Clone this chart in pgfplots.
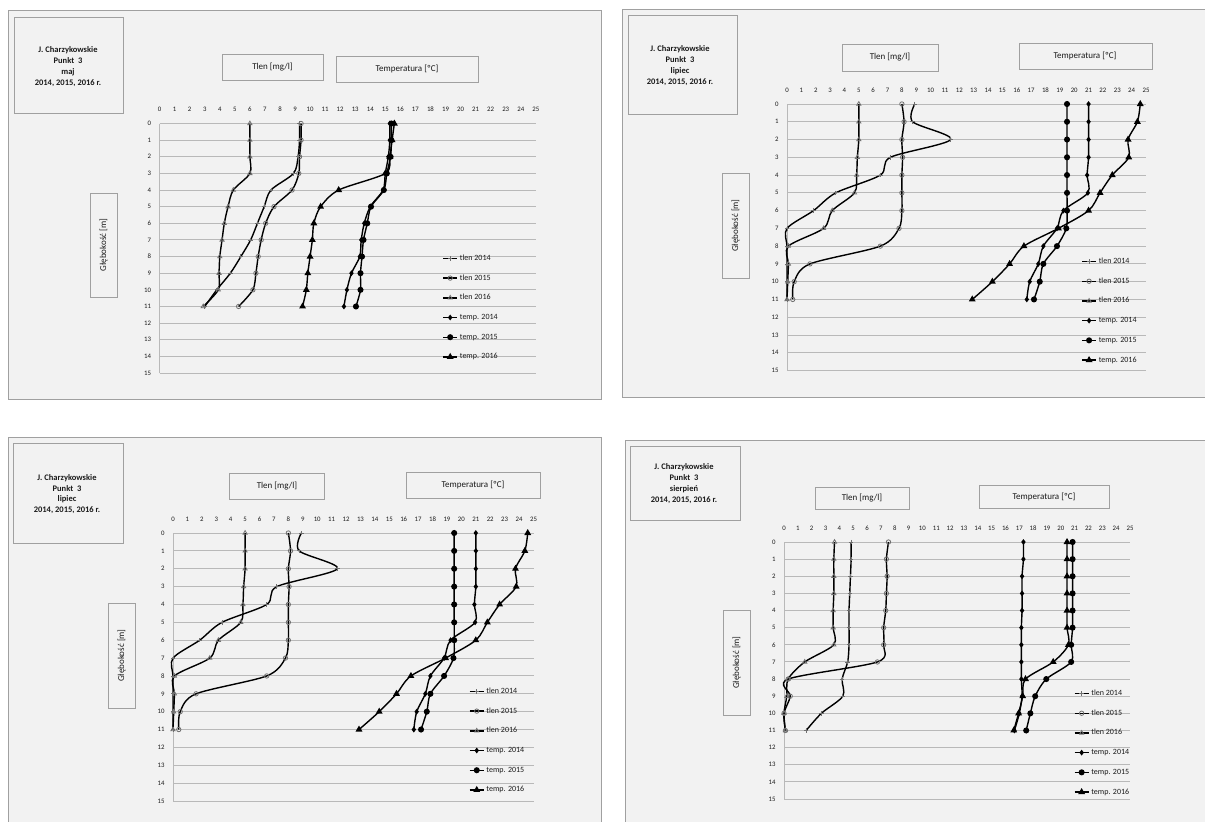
\documentclass[border=0pt]{standalone}
\usepackage{pgfplots}
\usepackage{pgfplotstable}
\pgfplotsset{compat=1.18}
\usepackage{fontspec}
\setmainfont{Carlito}
\definecolor{panelbg}{HTML}{F2F2F2}
\definecolor{framecol}{HTML}{A0A0A0}
\definecolor{gridcol}{HTML}{B9B9B9}
\definecolor{mkgray}{HTML}{707070}
\definecolor{txt}{HTML}{1A1A1A}

\pgfplotstableread{
d t14 t15 t16 T14 T15 T16
0 9.3 9.4 6.0 15.3 15.4 15.6
1 9.3 9.4 6.0 15.3 15.4 15.45
2 9.2 9.3 6.0 15.2 15.35 15.3
3 8.9 9.25 6.0 15.0 15.1 15.0
4 7.4 8.8 4.9 14.85 14.9 11.9
5 6.95 7.6 4.55 14.0 14.05 10.7
6 6.5 7.05 4.3 13.6 13.8 10.25
7 6.05 6.75 4.15 13.4 13.55 10.15
8 5.4 6.55 4.0 13.3 13.45 10.0
9 4.7 6.4 3.95 12.75 13.35 9.85
10 3.8 6.2 3.9 12.45 13.35 9.75
11 3.0 5.25 2.9 12.25 13.05 9.5
}\maj

\pgfplotstableread{
d t14 t15 t16 T14 T15 T16
0 8.9 8.0 5.0 21.0 19.5 24.6
1 8.75 8.15 5.0 21.0 19.5 24.4
2 11.4 8.0 5.0 21.0 19.5 23.75
3 7.2 8.05 4.9 21.0 19.5 23.8
4 6.5 8.0 4.85 20.9 19.5 22.65
5 3.4 8.0 4.7 20.95 19.5 21.8
6 1.85 8.0 3.15 19.25 19.5 21.0
7 0.0 7.8 2.55 18.8 19.45 18.9
8 0.0 6.5 0.1 17.85 18.8 16.5
9 0.0 1.6 0.1 17.5 17.85 15.5
10 0.0 0.5 0.05 16.9 17.6 14.3
11 0.0 0.4 0.0 16.7 17.2 12.9
}\lip

\pgfplotstableread{
d t14 t15 t16 T14 T15 T16
0 4.85 7.55 3.65 17.3 20.85 20.45
1 4.85 7.4 3.6 17.3 20.85 20.45
2 4.8 7.45 3.6 17.2 20.85 20.45
3 4.75 7.4 3.6 17.2 20.85 20.45
4 4.7 7.35 3.55 17.2 20.85 20.45
5 4.7 7.2 3.55 17.15 20.85 20.45
6 4.7 7.2 3.6 17.15 20.75 20.55
7 4.6 6.75 1.5 17.15 20.75 19.45
8 4.2 0.3 0.3 17.15 18.95 17.45
9 4.25 0.45 0.2 17.2 18.15 17.25
10 2.7 0.0 0.0 17.0 17.8 16.95
11 1.6 0.1 0.1 16.65 17.5 16.6
}\sie

\pgfplotsset{
  panel/.style={
    scale only axis, anchor=north west,
    xmin=0, xmax=25, ymin=-15, ymax=0,
    axis x line*=top, axis y line*=left,
    axis line style={draw=gridcol, line width=0.9pt, -},
    xtick={0,...,25}, ytick={-15,...,0},
    yticklabels={15,14,13,12,11,10,9,8,7,6,5,4,3,2,1,0},
    major tick length=0pt,
    ymajorgrids, major grid style={draw=gridcol, line width=0.9pt},
    tick label style={font=\fontsize{6.8}{7}\selectfont, text=txt},
    xticklabel shift=8pt, yticklabel shift=5pt,
    /pgf/number format/assume math mode=true,
    clip=false,
    legend cell align=left,
    legend style={draw=none, fill=none, font=\fontsize{8}{9}\selectfont, text=txt,
      anchor=north west, inner sep=0pt, outer sep=0pt, row sep=12.7pt,
      nodes={inner sep=0pt, text height=5.5pt, text depth=1.5pt},
      /tikz/every odd column/.append style={column sep=2pt}},
    legend image code/.code={\draw[mark repeat=2,mark phase=2,##1] plot coordinates {(0pt,0pt) (7pt,0pt) (14pt,0pt)};},
  },
  every axis plot/.append style={line width=1.4pt, black, smooth, tension=0.5},
  t14/.style={mark=+, mark size=2.2pt, mark options={mkgray, line width=0.8pt}},
  t15/.style={mark=o, mark size=2.2pt, mark options={mkgray, line width=0.8pt}},
  t16/.style={mark=triangle, mark size=2.4pt, mark options={mkgray, line width=0.8pt}},
  T14/.style={mark=diamond*, mark size=1.8pt, mark options={black}},
  T15/.style={mark=*, mark size=2.3pt, mark options={black}},
  T16/.style={mark=triangle*, mark size=2.6pt, mark options={black}},
}
\tikzset{
  ttl/.style={font=\fontsize{8.5}{11}\selectfont\bfseries, align=center, text=txt, inner sep=0pt},
  lab/.style={font=\fontsize{9}{10}\selectfont, text=txt, inner sep=0pt},
  bx/.style={draw=framecol, line width=0.8pt},
  fr/.style={fill=panelbg, draw=framecol, line width=1pt},
}

\begin{document}
\begin{tikzpicture}
\useasboundingbox (0pt,0pt) rectangle (1205pt,-822pt);
\clip (0pt,0pt) rectangle (1205pt,-822pt);
\fill[white] (0pt,0pt) rectangle (1205pt,-822pt);

% ---------- panel 1 (maj)
\path[fr] (8.4pt,-10pt) rectangle (601pt,-399pt);
\draw[bx] (14.5pt,-17pt) rectangle (123.6pt,-113pt);
\node[ttl] at (68pt,-66.5pt) {J. Charzykowskie\\Punkt\ \ 3\\maj\\2014, 2015, 2016 r.};
\draw[bx] (222pt,-54pt) rectangle (323pt,-80pt);
\node[lab] at (272.5pt,-67pt) {Tlen [mg/l]};
\draw[bx] (336pt,-56pt) rectangle (478pt,-82pt);
\node[lab] at (407pt,-69pt) {Temperatura [ºC]};
\draw[bx] (90pt,-193pt) rectangle (117pt,-297pt);
\node[lab, rotate=90] at (103.5pt,-245pt) {Głębokość [m]};
\begin{axis}[panel, at={(159.6pt,-123.5pt)}, width=376.2pt, height=249.5pt,
  legend style={at={(axis cs:18.8,-7.9)}}]
\addplot[t14] table[x=t14, y expr=-\thisrow{d}] {\maj};
\addplot[t15] table[x=t15, y expr=-\thisrow{d}] {\maj};
\addplot[t16] table[x=t16, y expr=-\thisrow{d}] {\maj};
\addplot[T14] table[x=T14, y expr=-\thisrow{d}] {\maj};
\addplot[T15] table[x=T15, y expr=-\thisrow{d}] {\maj};
\addplot[T16] table[x=T16, y expr=-\thisrow{d}] {\maj};
\legend{tlen 2014, tlen 2015, tlen 2016, temp. 2014, temp. 2015, temp. 2016}
\end{axis}

% ---------- panel 2 (lipiec)
\path[fr] (622pt,-9pt) rectangle (1215pt,-397pt);
\draw[bx] (628pt,-15pt) rectangle (737pt,-114pt);
\node[ttl] at (680pt,-65.5pt) {J. Charzykowskie\\Punkt\ \ 3\\lipiec\\2014, 2015, 2016 r.};
\draw[bx] (842pt,-44pt) rectangle (938pt,-71pt);
\node[lab] at (890pt,-57.5pt) {Tlen [mg/l]};
\draw[bx] (1019pt,-43pt) rectangle (1152pt,-69pt);
\node[lab] at (1085pt,-56pt) {Temperatura [ºC]};
\draw[bx] (722pt,-173pt) rectangle (749pt,-278pt);
\node[lab, rotate=90] at (735.5pt,-225.5pt) {Głębokość [m]};
\begin{axis}[panel, at={(787pt,-104pt)}, width=359pt, height=266.5pt,
  legend style={at={(axis cs:20.5,-8.67)}}]
\addplot[t14] table[x=t14, y expr=-\thisrow{d}] {\lip};
\addplot[t15] table[x=t15, y expr=-\thisrow{d}] {\lip};
\addplot[t16] table[x=t16, y expr=-\thisrow{d}] {\lip};
\addplot[T14] table[x=T14, y expr=-\thisrow{d}] {\lip};
\addplot[T15] table[x=T15, y expr=-\thisrow{d}] {\lip};
\addplot[T16] table[x=T16, y expr=-\thisrow{d}] {\lip};
\legend{tlen 2014, tlen 2015, tlen 2016, temp. 2014, temp. 2015, temp. 2016}
\end{axis}

% ---------- panel 3 (lipiec)
\path[fr] (8.4pt,-437pt) rectangle (601pt,-830pt);
\draw[bx] (13.4pt,-443pt) rectangle (123pt,-543pt);
\node[ttl, font=\fontsize{8.5}{10.7}\selectfont\bfseries] at (67pt,-494pt) {J. Charzykowskie\\Punkt\ \ 3\\lipiec\\2014, 2015, 2016 r.};
\draw[bx] (229pt,-473pt) rectangle (324.5pt,-499pt);
\node[lab] at (277pt,-486pt) {Tlen [mg/l]};
\draw[bx] (406pt,-472pt) rectangle (540pt,-498pt);
\node[lab] at (473pt,-485pt) {Temperatura [ºC]};
\draw[bx] (108pt,-603pt) rectangle (135pt,-708pt);
\node[lab, rotate=90] at (121.5pt,-655.5pt) {Głębokość [m]};
\begin{axis}[panel, at={(173pt,-533pt)}, width=360.5pt, height=268pt,
  legend style={at={(axis cs:20.53,-8.67)}}]
\addplot[t14] table[x=t14, y expr=-\thisrow{d}] {\lip};
\addplot[t15] table[x=t15, y expr=-\thisrow{d}] {\lip};
\addplot[t16] table[x=t16, y expr=-\thisrow{d}] {\lip};
\addplot[T14] table[x=T14, y expr=-\thisrow{d}] {\lip};
\addplot[T15] table[x=T15, y expr=-\thisrow{d}] {\lip};
\addplot[T16] table[x=T16, y expr=-\thisrow{d}] {\lip};
\legend{tlen 2014, tlen 2015, tlen 2016, temp. 2014, temp. 2015, temp. 2016}
\end{axis}

% ---------- panel 4 (sierpien)
\path[fr] (625pt,-440pt) rectangle (1215pt,-830pt);
\draw[bx] (630pt,-446pt) rectangle (740pt,-520pt);
\node[ttl] at (684pt,-483.5pt) {J. Charzykowskie\\Punkt\ \ 3\\sierpień\\2014, 2015, 2016 r.};
\draw[bx] (815pt,-487pt) rectangle (909pt,-509pt);
\node[lab] at (862pt,-498pt) {Tlen [mg/l]};
\draw[bx] (979pt,-485pt) rectangle (1109pt,-508pt);
\node[lab] at (1044pt,-496.5pt) {Temperatura [ºC]};
\draw[bx] (723pt,-610pt) rectangle (750pt,-715pt);
\node[lab, rotate=90] at (736.5pt,-662.5pt) {Głębokość [m]};
\begin{axis}[panel, at={(784pt,-542pt)}, width=346pt, height=257pt,
  legend style={at={(axis cs:20.95,-8.64)}}]
\addplot[t14] table[x=t14, y expr=-\thisrow{d}] {\sie};
\addplot[t15] table[x=t15, y expr=-\thisrow{d}] {\sie};
\addplot[t16] table[x=t16, y expr=-\thisrow{d}] {\sie};
\addplot[T14] table[x=T14, y expr=-\thisrow{d}] {\sie};
\addplot[T15] table[x=T15, y expr=-\thisrow{d}] {\sie};
\addplot[T16] table[x=T16, y expr=-\thisrow{d}] {\sie};
\legend{tlen 2014, tlen 2015, tlen 2016, temp. 2014, temp. 2015, temp. 2016}
\end{axis}
\end{tikzpicture}
\end{document}
